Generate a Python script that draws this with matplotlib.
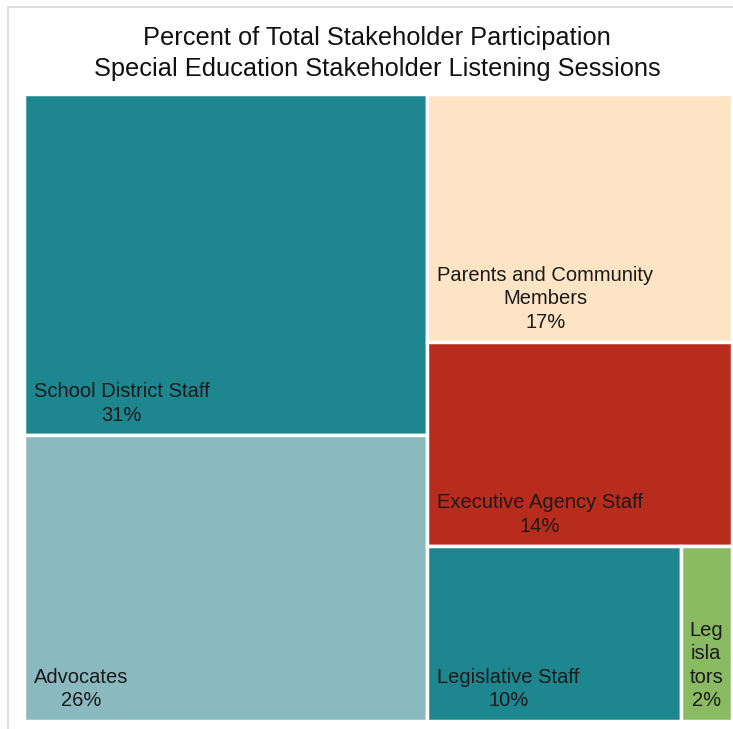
import matplotlib.pyplot as plt
from matplotlib.patches import Rectangle

# data
categories = ["School District Staff", "Advocates", "Parents and Community\nMembers",
              "Executive Agency Staff", "Legislative Staff", "Leg\nisla\ntors"]
shares = [31, 26, 17, 14, 10, 2]
colors = ["#1e868f", "#8ab9c0", "#fde4c4", "#b82c1e", "#1e868f", "#8abb63"]

title = "Percent of Total Stakeholder Participation"
subtitle = "Special Education Stakeholder Listening Sessions"

W, H = 733, 729
plt.rcParams['font.family'] = ['Liberation Sans', 'DejaVu Sans']
fig = plt.figure(figsize=(W / 100, H / 100), dpi=100)

# chart-area border
fig.patches.append(Rectangle((8 / W, -0.01), 1.0, 1 - 7 / H + 0.01,
                             transform=fig.transFigure, fill=False,
                             edgecolor="#d9d9d9", linewidth=1.2))

fig.text(377 / W, 1 - 38 / H, title, ha="center", va="center",
         fontsize=18.3, color="#111111")
fig.text(377 / W, 1 - 69 / H, subtitle, ha="center", va="center",
         fontsize=18.3, color="#111111")

ax = fig.add_axes([24 / W, 1 - 720.5 / H, 707.5 / W, 626.5 / H])
ax.set_xlim(0, 1)
ax.set_ylim(0, 1)
ax.axis("off")

# treemap layout: left column (first two), right column (next two stacked,
# then last two side by side)
total = sum(shares)
left_w = (shares[0] + shares[1]) / total
rects = []
lc = shares[0] + shares[1]
h0 = shares[0] / lc
rects.append((0, 1 - h0, left_w, h0))
rects.append((0, 0, left_w, 1 - h0))
rc = total - lc
rw = 1 - left_w
y = 1
for v in shares[2:4]:
    h = v / rc
    rects.append((left_w, y - h, rw, h))
    y -= h
bottom = shares[4] + shares[5]
x = left_w
for v in shares[4:]:
    w = rw * v / bottom
    rects.append((x, 0, w, y))
    x += w

for i, ((x0, y0, w, h), lab, v, c) in enumerate(zip(rects, categories, shares, colors)):
    ax.add_patch(Rectangle((x0, y0), w, h, facecolor=c, edgecolor="white",
                           linewidth=2.5))
    txt = f"{lab}\n{v}%"
    if i == len(rects) - 1:
        ax.text(x0 + w / 2, y0 + 0.016, txt, ha="center", va="bottom",
                multialignment="center", fontsize=14.5, color="#1a1a1a",
                linespacing=1.3)
    else:
        ax.text(x0 + 0.014, y0 + 0.016, txt, ha="left", va="bottom",
                multialignment="center", fontsize=14.5, color="#1a1a1a",
                linespacing=1.3)

fig.savefig("out.png", dpi=100)
